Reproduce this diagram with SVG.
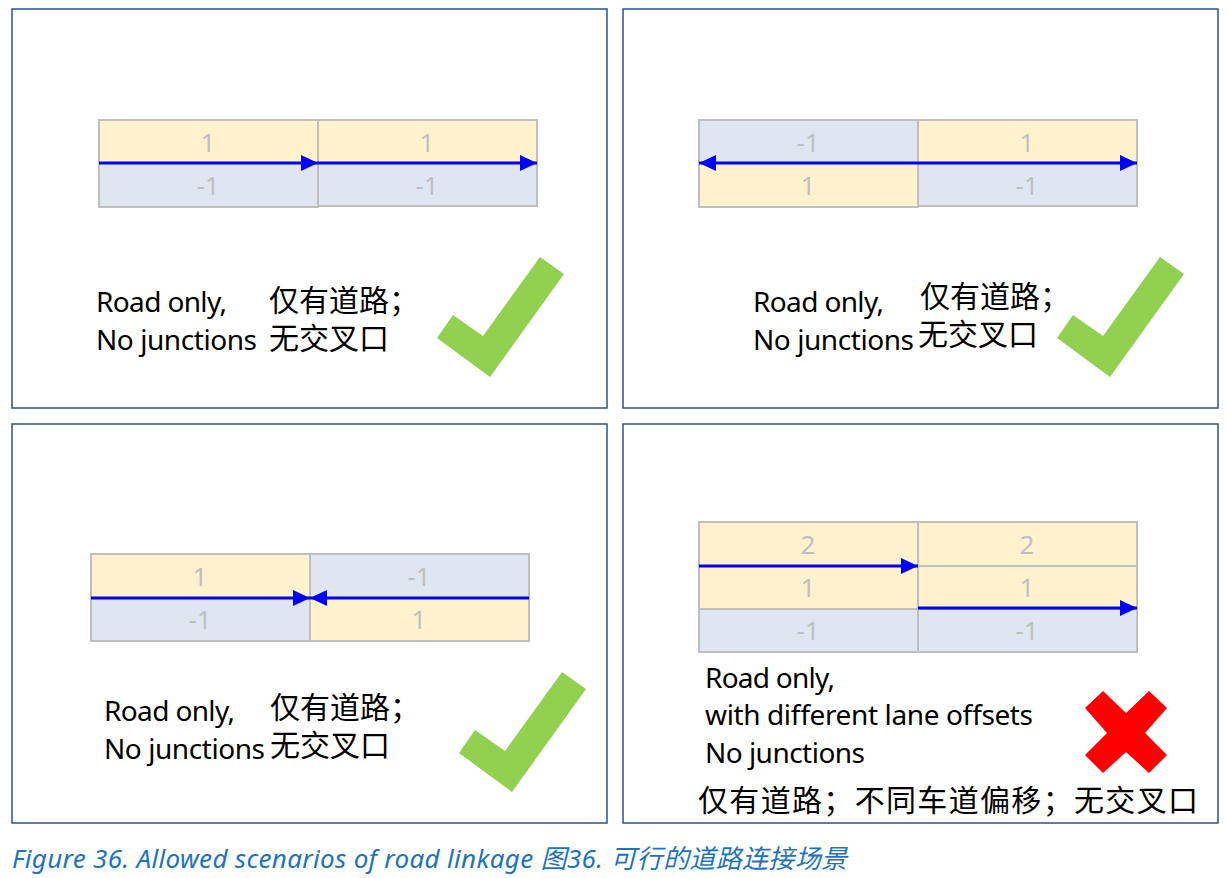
<svg xmlns="http://www.w3.org/2000/svg" width="1228" height="878" viewBox="0 0 1228 878">
<style>
.panel{fill:#fff;stroke:#2F528F;stroke-width:1.5}
.y{fill:#FFF2CC;stroke:#BFBFBF;stroke-width:2}
.b{fill:#DFE6F2;stroke:#BFBFBF;stroke-width:2}
.ln{fill:#BFBFBF;font-family:"Noto Sans","Liberation Sans",sans-serif;font-size:26px;text-anchor:middle}
.arr{stroke:#0000FF;stroke-width:3;fill:none}
.en{font-family:"Noto Sans","Liberation Sans",sans-serif;font-size:28px;fill:#000}
.zh{font-family:"Noto Sans CJK SC",sans-serif;font-size:30px;fill:#000}
.ok{fill:#92D050}
.no{fill:#FF0000}
.cap{font-family:"Noto Sans","Noto Sans CJK SC",sans-serif;font-size:26px;font-style:italic;fill:#1F73BC}
</style>
<defs>
<marker id="ah" viewBox="0 0 17 16" refX="17" refY="8" markerWidth="17" markerHeight="16" markerUnits="userSpaceOnUse" orient="auto-start-reverse">
<path d="M0,0 L17,8 L0,16 Z" fill="#0000FF"/>
</marker>
<polygon id="check" points="540,257 564,274 490,377 437,338 453,315 483,336"/>
</defs>
<rect width="1228" height="878" fill="#fff"/>

<g id="panel1">
<rect class="panel" x="12" y="9" width="595" height="399"/>
<rect class="y" x="99" y="120" width="219" height="43"/>
<rect class="b" x="99" y="163" width="219" height="44"/>
<rect class="y" x="318" y="120" width="219" height="43"/>
<rect class="b" x="318" y="163" width="219" height="43"/>
<text class="ln" x="208" y="152">1</text>
<text class="ln" x="208" y="195">-1</text>
<text class="ln" x="427" y="152">1</text>
<text class="ln" x="427" y="195">-1</text>
<text class="en" x="96" y="312" textLength="131">Road only,</text>
<text class="en" x="96" y="350" textLength="161">No junctions</text>
<text class="zh" x="269" y="311">仅有道路；</text>
<text class="zh" x="269" y="349">无交叉口</text>
<use href="#check" class="ok"/>
</g>

<g id="panel2">
<rect class="panel" x="623" y="9" width="595" height="399"/>
<rect class="b" x="699" y="120" width="219" height="43"/>
<rect class="y" x="699" y="163" width="219" height="44"/>
<rect class="y" x="918" y="120" width="219" height="43"/>
<rect class="b" x="918" y="163" width="219" height="43"/>
<text class="ln" x="808" y="152">-1</text>
<text class="ln" x="808" y="195">1</text>
<text class="ln" x="1027" y="152">1</text>
<text class="ln" x="1027" y="195">-1</text>
<text class="en" x="753" y="312" textLength="131">Road only,</text>
<text class="en" x="753" y="350" textLength="161">No junctions</text>
<text class="zh" x="920" y="307">仅有道路；</text>
<text class="zh" x="918" y="345">无交叉口</text>
<use href="#check" class="ok" transform="translate(620,0)"/>
</g>

<g id="panel3">
<rect class="panel" x="12" y="424" width="595" height="399"/>
<rect class="y" x="91" y="554" width="219" height="44"/>
<rect class="b" x="91" y="598" width="219" height="43"/>
<rect class="b" x="310" y="554" width="219" height="44"/>
<rect class="y" x="310" y="598" width="219" height="43"/>
<text class="ln" x="200" y="586">1</text>
<text class="ln" x="200" y="629">-1</text>
<text class="ln" x="419" y="586">-1</text>
<text class="ln" x="419" y="629">1</text>
<text class="en" x="104" y="721" textLength="131">Road only,</text>
<text class="en" x="104" y="759" textLength="161">No junctions</text>
<text class="zh" x="270" y="718">仅有道路；</text>
<text class="zh" x="270" y="756">无交叉口</text>
<use href="#check" class="ok" transform="translate(22,415)"/>
</g>

<g id="panel4">
<rect class="panel" x="623" y="424" width="595" height="399"/>
<rect class="y" x="699" y="522" width="219" height="87"/>
<rect class="b" x="699" y="609" width="219" height="43"/>
<rect class="y" x="918" y="522" width="219" height="44"/>
<rect class="y" x="918" y="566" width="219" height="43"/>
<rect class="b" x="918" y="609" width="219" height="43"/>
<text class="ln" x="808" y="554">2</text>
<text class="ln" x="808" y="597">1</text>
<text class="ln" x="808" y="640">-1</text>
<text class="ln" x="1027" y="554">2</text>
<text class="ln" x="1027" y="597">1</text>
<text class="ln" x="1027" y="640">-1</text>
<text class="en" x="705" y="688" textLength="130">Road only,</text>
<text class="en" x="705" y="725" textLength="328">with different lane offsets</text>
<text class="en" x="705" y="763" textLength="160">No junctions</text>
<text class="zh" x="698" y="811" textLength="500">仅有道路；不同车道偏移；无交叉口</text>
<polygon class="no" points="1103,691 1126,713 1149,691 1167,708 1145,733 1167,755 1149,773 1126,752 1103,773 1085,755 1107,733 1085,708"/>
</g>

<g id="connectors">
<line class="arr" x1="99" y1="163" x2="318" y2="163" marker-end="url(#ah)"/>
<line class="arr" x1="318" y1="163" x2="537" y2="163" marker-end="url(#ah)"/>
<line class="arr" x1="699" y1="163" x2="1137" y2="163" marker-start="url(#ah)" marker-end="url(#ah)"/>
<line class="arr" x1="91" y1="598" x2="310" y2="598" marker-end="url(#ah)"/>
<line class="arr" x1="529" y1="598" x2="310" y2="598" marker-end="url(#ah)"/>
<line class="arr" x1="699" y1="566" x2="918" y2="566" marker-end="url(#ah)"/>
<line class="arr" x1="918" y1="608" x2="1137" y2="608" marker-end="url(#ah)"/>
</g>

<text class="cap" x="12" y="868" textLength="835">Figure 36. Allowed scenarios of road linkage 图36. 可行的道路连接场景</text>
</svg>
